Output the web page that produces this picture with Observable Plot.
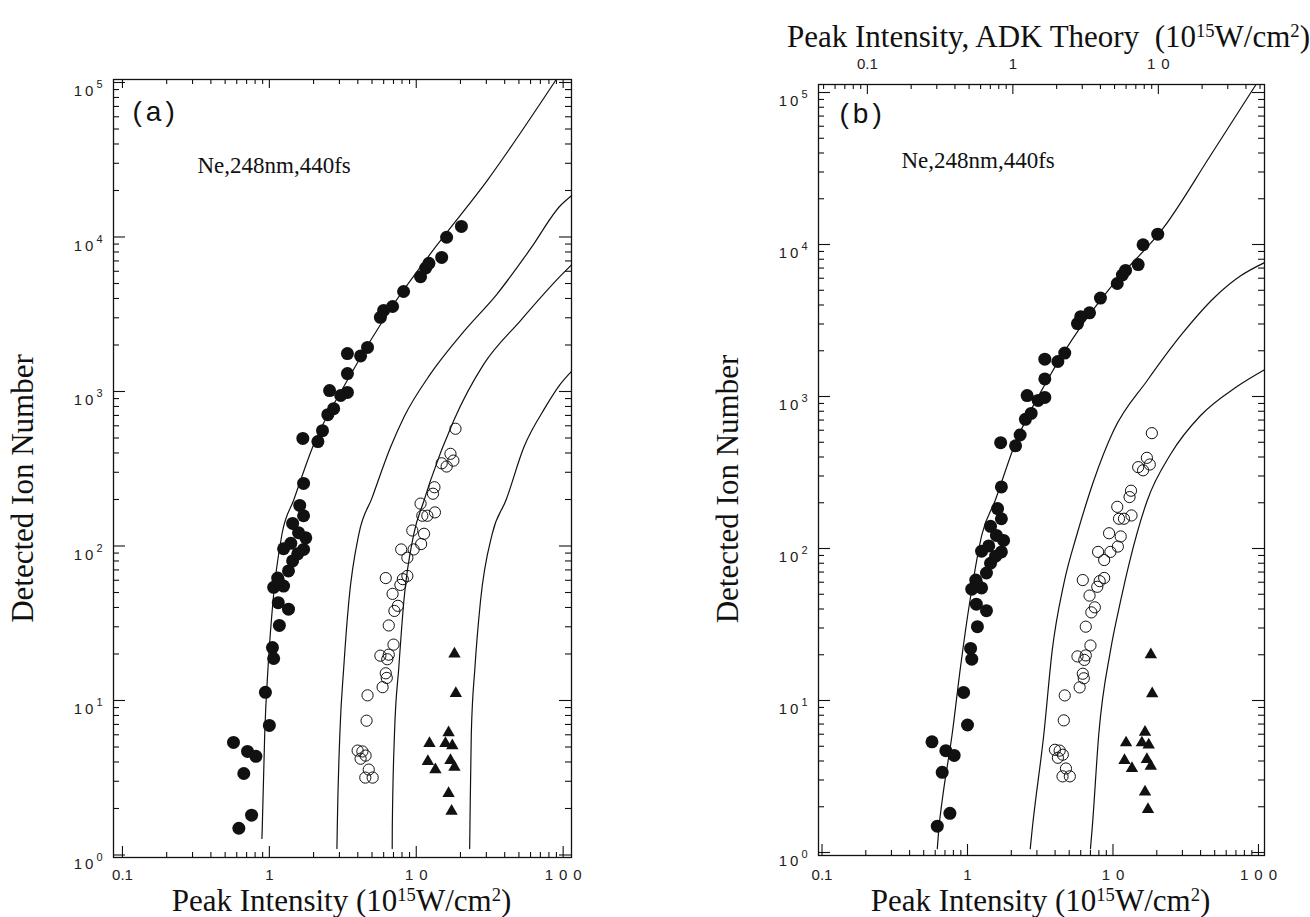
<!DOCTYPE html>
<html><head><meta charset="utf-8">
<script src="https://cdn.jsdelivr.net/npm/d3@7"></script>
<script src="https://cdn.jsdelivr.net/npm/@observablehq/plot@0.6"></script>
<style>
html,body{margin:0;padding:0;background:#fff;}
#root{position:relative;width:1310px;height:917px;overflow:hidden;background:#fff;}
#root svg{position:absolute;top:0;}
</style></head><body><div id="root"></div>
<script>
// ---------- data (intensity in 1e15 W/cm^2, detected ion number) ----------
const filledPoints = [
  [0.62,1.49],[0.757,1.81],[0.57,5.35],[0.71,4.68],[0.81,4.35],[0.67,3.37],[1.0,6.9],[0.94,11.3],
  [1.07,18.7],[1.05,22],[1.17,30.6],[1.35,39],[1.15,43],[1.07,54],[1.15,60],[1.25,55],[1.35,69],
  [1.14,62],[1.44,80],[1.25,96],[1.71,95],[1.56,89],[1.40,104],[1.77,113],[1.58,122],[1.44,140],
  [1.71,157],[1.61,183],[1.71,254],[1.69,497],[2.14,474],[2.30,558],[2.50,708],[2.74,774],[2.57,1014],
  [3.06,942],[3.4,986],[3.4,1306],[3.4,1760],[4.18,1700],[4.66,1930],[5.7,3020],[6.0,3350],[6.9,3550],
  [8.2,4440],[10.7,5540],[11.6,6300],[12.2,6750],[14.9,7380],[16.1,9960],[20.3,11700]
];
const openPoints = [
  [4.66,10.8],[4.59,7.4],[3.99,4.74],[4.30,4.68],[4.52,4.40],[4.18,4.20],[4.75,3.57],[4.50,3.17],[5.05,3.17],
  [5.90,12.2],[6.20,15.0],[6.30,14.0],[5.70,19.5],[6.50,19.8],[6.35,18.5],[7.00,23.0],[6.50,30.6],[7.10,38.0],
  [7.50,41.0],[6.90,49.0],[6.20,62.0],[7.80,56.0],[8.10,61.0],[8.70,64.0],[7.90,95.0],[8.70,84.0],[9.60,95.0],
  [9.40,126],[11.3,120],[10.8,103],[11.0,157],[11.9,157],[13.4,165],[10.7,188],
  [18.5,574],[17.1,395],[17.9,357],[14.9,343],[16.1,327],[13.3,240],[13.0,218]
];
const trianglePoints = [
  [18.2,20],[18.6,11.1],[12.3,5.27],[16.6,6.2],[15.8,5.27],[17.6,5.1],[12.0,4.04],[13.5,3.57],
  [17.1,4.1],[18.2,3.7],[16.6,2.5],[17.4,1.92]
];
// theory curves, panel (a)
const curveA1 = [[0.89,1.28],[0.895,1.51],[0.93,6.09],[0.98,16.4],[1.06,44.4],[1.22,120],[1.47,200],[1.97,436],[3.39,1178],[6.35,3185],[13.5,8590],[30.4,23200],[88.8,103000]];
const curveA2 = [[2.885,1.1],[2.90,1.51],[3.02,6.09],[3.21,16.4],[3.48,44.4],[4.07,120],[5.0,205],[6.68,436],[8.24,682],[12.5,1300],[21.1,2450],[35.6,4290],[60,8400],[96,16000],[114,18500]];
const curveA3 = [[6.86,1.1],[6.87,1.51],[7.11,6.09],[7.61,16.4],[8.24,44.4],[9.63,120],[11.3,197],[12.5,265],[18.0,650],[28.9,1510],[51.3,2880],[96,5600],[114,6600]];
const curveA4 = [[23.1,1.1],[23.2,1.51],[23.7,6.09],[25.1,16.4],[27.4,44.4],[32.9,120],[41.0,200],[54.0,436],[75,780],[96,1120],[114,1350]];
// theory curves, panel (b)
const curveB1 = [[0.62,1.06],[0.635,1.43],[0.67,2.2],[0.785,6.04],[0.895,16.6],[1.04,45.5],[1.26,125],[1.55,207],[2.08,464],[3.53,1274],[5.98,2860],[10.1,5510],[22.4,13000],[46.8,38500],[95.7,112000]];
const curveB2 = [[2.70,1.06],[2.78,1.40],[3.35,6.04],[3.82,21.3],[4.59,58.6],[5.67,125],[6.65,207],[7.38,280],[10.1,597],[17.2,1274],[30,2600],[50,4500],[75,6200],[110,7600]];
const curveB3 = [[7.0,1.06],[7.19,1.43],[7.99,6.04],[9.61,21.3],[11.3,45.5],[12.9,79.3],[17.2,207],[25,420],[40,750],[70,1150],[110,1500]];

// ---------- ticks & labels ----------
const xMajorTicks = [0.1, 1, 10, 100];
const xMinorTicks = [0.2,0.3,0.4,0.5,0.6,0.7,0.8,0.9, 2,3,4,5,6,7,8,9, 20,30,40,50,60,70,80,90];
const yMajorTicks = [1, 10, 100, 1000, 10000, 100000];
const yMinorTicks = [2,3,4,5,6,7,8,9, 20,30,40,50,60,70,80,90, 200,300,400,500,600,700,800,900,
  2000,3000,4000,5000,6000,7000,8000,9000, 20000,30000,40000,50000,60000,70000,80000,90000];
const adkMajorTicks = [0.1, 1, 10];
const adkMinorTicks = [0.05,0.06,0.07,0.08,0.09, 0.2,0.3,0.4,0.5,0.6,0.7,0.8,0.9, 2,3,4,5,6,7,8,9, 20,30,40,50];
const adkTickLabels = ["0.1", "1", "10"];
const adkFactor = 2.05; // experimental intensity per ADK-theory intensity
const xAxisTitle = "Peak Intensity (10^{15}W/cm^{2})";
const topAxisTitle = "Peak Intensity, ADK Theory  (10^{15}W/cm^{2})";
const yAxisTitle = "Detected Ion Number";
const annotation = "Ne,248nm,440fs";
const panelTags = ["(a)", "(b)"];

// ---------- drawing ----------
const H = 917;
const SERIF = "Liberation Serif, Times New Roman, serif";
const SANS = "Liberation Sans, Arial, sans-serif";
const rows = arr => arr.map(([I, N]) => ({I, N}));
const tk = {stroke: "#111", strokeWidth: 1.1};

function rich(el, size) {
  const parts = el.textContent.split(/(\^\{[^}]*\})/).filter(p => p);
  el.textContent = "";
  el.style.whiteSpace = "pre";
  const sel = d3.select(el);
  const rise = size * 0.32;
  let up = false;
  for (const p of parts) {
    const m = p.match(/^\^\{(.*)\}$/);
    const ts = sel.append("tspan");
    if (m) { ts.attr("dy", up ? 0 : -rise).attr("font-size", size * 0.6).text(m[1]); up = true; }
    else { ts.attr("dy", up ? rise : 0).text(p); up = false; }
  }
}

function post(svg) {
  d3.select(svg).selectAll("text").each(function () {
    const el = this;
    if (el.querySelector("tspan")) return;
    const t = el.textContent;
    let m;
    if ((m = t.match(/^10\^(\d)$/))) {
      el.textContent = "10";
      el.style.letterSpacing = "3px";
      d3.select(el).append("tspan").attr("dy", -8).attr("font-size", 11)
        .style("letter-spacing", "0px").text(m[1]);
    } else if (/^(10|100)$/.test(t)) {
      el.style.letterSpacing = "6px";
      el.setAttribute("dx", 3);
    } else if (/^\([ab]\)$/.test(t)) {
      el.style.letterSpacing = "4px";
    } else if (t.includes("^{")) {
      rich(el, 31);
    }
  });
}

function makePanel(o) {
  const fw = o.width - o.ml - o.mr, fh = H - o.mt - o.mb;
  const marks = [
    Plot.ruleX(xMajorTicks, {x: d => d, insetTop: fh - 11, ...tk}),
    Plot.ruleX(xMinorTicks, {x: d => d, insetTop: fh - 5, ...tk}),
    ...o.topTicks(fh),
    Plot.ruleY(yMajorTicks, {y: d => d, insetRight: fw - 12, ...tk}),
    Plot.ruleY(yMinorTicks, {y: d => d, insetRight: fw - 6, ...tk}),
    Plot.ruleY(yMajorTicks, {y: d => d, insetLeft: fw - 12, ...tk}),
    Plot.ruleY(yMinorTicks, {y: d => d, insetLeft: fw - 6, ...tk}),
    Plot.frame({stroke: "#111", strokeWidth: 1.3}),
    Plot.text(xMajorTicks, {x: d => d, frameAnchor: "bottom", dy: o.xPad, lineAnchor: "top",
      text: d => String(d), fontFamily: SANS, fontSize: 15, fill: "#222"}),
    Plot.text(yMajorTicks, {y: d => d, frameAnchor: "left", dx: -11, dy: 9, textAnchor: "end",
      lineAnchor: "middle", text: d => `10^${Math.round(Math.log10(d))}`, fontFamily: SANS, fontSize: 15, fill: "#222"}),
    ...o.extra,
    ...o.curves.map(c => Plot.line(rows(c), {x: "I", y: "N", curve: "monotone-x",
      stroke: "#111", strokeWidth: 1.2})),
    Plot.dot(rows(openPoints), {x: "I", y: "N", r: 5.6, stroke: "#111", strokeWidth: 1, fill: "none"}),
    Plot.dot(rows(filledPoints), {x: "I", y: "N", r: 6.5, fill: "#111", stroke: "none"}),
    Plot.dot(rows(trianglePoints), {x: "I", y: "N", r: 4.6, symbol: "triangle", fill: "#111", stroke: "none"}),
    Plot.text([o.tag], {frameAnchor: "top-left", dx: o.tagDx, dy: o.tagDy, text: d => d,
      fontFamily: SANS, fontSize: 28, textAnchor: "start", lineAnchor: "bottom", fill: "#111"}),
    Plot.text([annotation], {frameAnchor: "top-left", dx: o.noteDx, dy: o.noteDy, text: d => d,
      fontFamily: SERIF, fontSize: 23, textAnchor: "start", lineAnchor: "bottom", fill: "#111"}),
    Plot.text([xAxisTitle], {frameAnchor: "bottom", dx: -1, dy: o.xTitleDy, text: d => d,
      fontFamily: SERIF, fontSize: 31, textAnchor: "middle", lineAnchor: "bottom", fill: "#111"}),
    Plot.text([yAxisTitle], {frameAnchor: "left", dx: -90, dy: o.yTitleDy, rotate: -90, text: d => d,
      fontFamily: SERIF, fontSize: 31, textAnchor: "middle", lineAnchor: "middle", fill: "#111"})
  ];
  const svg = Plot.plot({
    width: o.width, height: H,
    marginLeft: o.ml, marginRight: o.mr, marginTop: o.mt, marginBottom: o.mb,
    x: {type: "log", domain: o.xDomain, label: null, axis: null},
    y: {type: "log", domain: o.yDomain, label: null, axis: null},
    style: {fontFamily: SANS, fontSize: "15px", color: "#111",
      background: "transparent", overflow: "visible"},
    marks
  });
  svg.style.left = o.left + "px";
  svg.style.maxWidth = "none";
  post(svg);
  document.getElementById("root").appendChild(svg);
}

// panel (a)
makePanel({
  left: 0, width: 640, ml: 113, mr: 69, mt: 79, mb: 60,
  xDomain: [0.0869, 114], yDomain: [0.9634, 104570],
  xPad: 11.5, tag: panelTags[0], tagDx: 19, tagDy: 41, noteDx: 84, noteDy: 93,
  xTitleDy: 53, yTitleDy: 20,
  curves: [curveA1, curveA2, curveA3, curveA4],
  topTicks: fh => [
    Plot.ruleX(xMajorTicks, {x: d => d, insetBottom: fh - 9, ...tk}),
    Plot.ruleX(xMinorTicks, {x: d => d, insetBottom: fh - 5, ...tk})
  ],
  extra: []
});

// panel (b)
makePanel({
  left: 705, width: 605, ml: 113, mr: 46, mt: 84, mb: 62,
  xDomain: [0.0946, 110], yDomain: [0.9556, 112900],
  xPad: 13.5, tag: panelTags[1], tagDx: 21, tagDy: 38, noteDx: 83, noteDy: 83,
  xTitleDy: 55, yTitleDy: 19,
  curves: [curveB1, curveB2, curveB3],
  topTicks: fh => [
    Plot.ruleX(adkMajorTicks, {x: d => d * adkFactor, insetBottom: fh - 10, ...tk}),
    Plot.ruleX(adkMinorTicks, {x: d => d * adkFactor, insetBottom: fh - 5, ...tk})
  ],
  extra: [
    Plot.text(adkMajorTicks, {x: d => d * adkFactor, frameAnchor: "top", dy: -16, lineAnchor: "bottom",
      text: (d, i) => adkTickLabels[i], fontFamily: SANS, fontSize: 15, fill: "#222"}),
    Plot.text([topAxisTitle], {frameAnchor: "top", dx: 7, dy: -38, text: d => d,
      fontFamily: SERIF, fontSize: 31, textAnchor: "middle", lineAnchor: "bottom", fill: "#111"})
  ]
});
</script></body></html>
